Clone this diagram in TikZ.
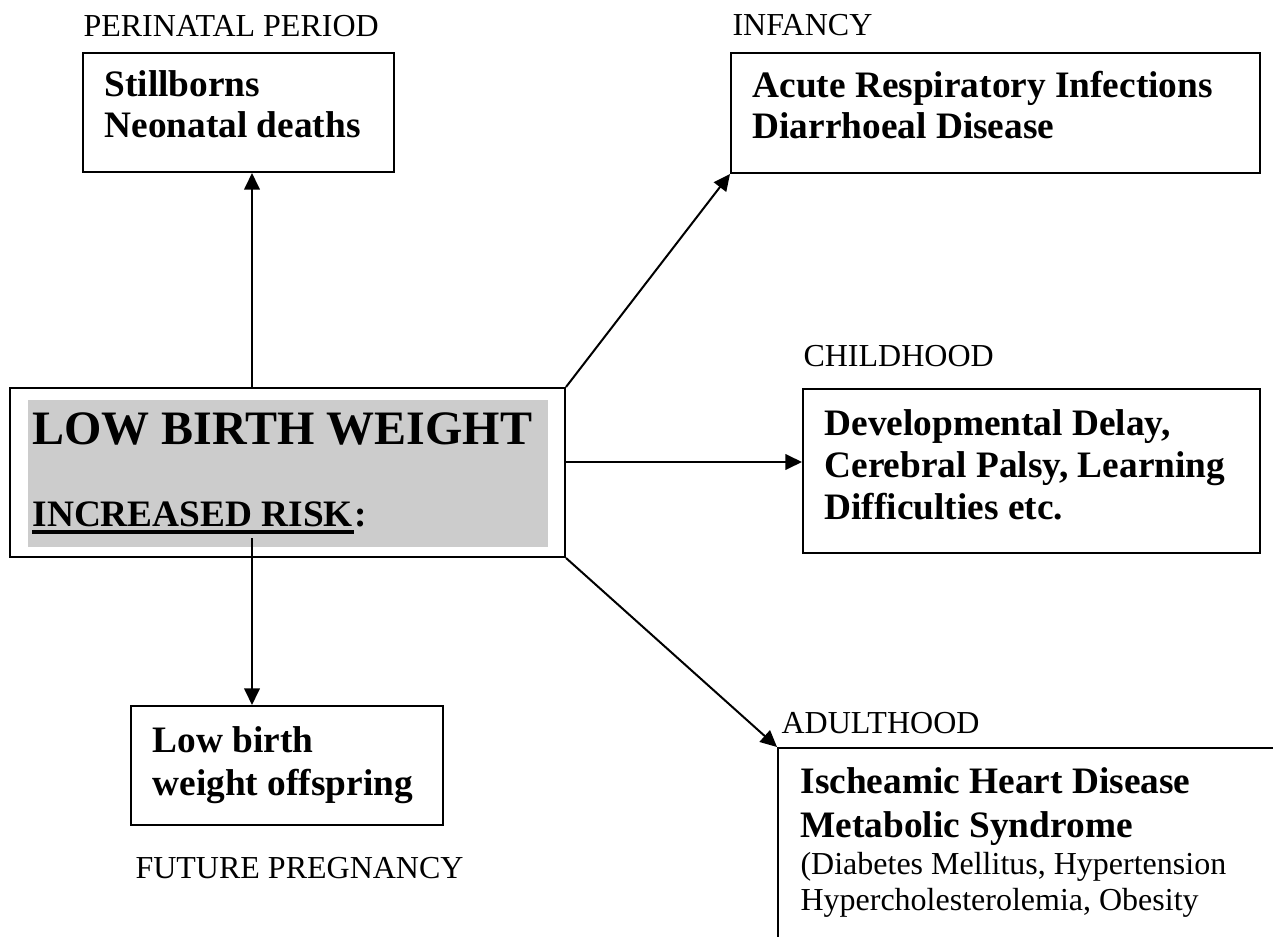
\documentclass[tikz,border=0pt]{standalone}
\usepackage{fontspec}
\setmainfont{Liberation Serif}
\usetikzlibrary{arrows.meta,fit,calc}
\definecolor{shade}{RGB}{204,204,204}

\begin{document}
\begin{tikzpicture}[x=0.375pt,y=-0.375pt,
  box/.style={draw, line width=0.75pt, inner sep=0pt, rectangle},
  lbl/.style={anchor=base west, inner sep=0pt, font=\fontsize{12}{14}\selectfont},
  itm/.style={anchor=base west, inner sep=0pt, font=\fontsize{14}{16}\selectfont\bfseries},
  big/.style={anchor=base west, inner sep=0pt, font=\fontsize{18}{20}\selectfont\bfseries},
  arr/.style={line width=0.75pt, -{Triangle[length=6.2pt,width=5.8pt]}},
]
\useasboundingbox (0,0) rectangle (1273,937);
\clip (0,0) rectangle (1273,937);

% central box
\node[box, fit={(10,388)(565,557)}] (lbw) {};
\node[fill=shade, inner sep=0pt, fit={(28,400)(548,547)}] (shadebg) {};
\node[big] (title) at (32,444) {LOW BIRTH WEIGHT};
\node[itm] (risk) at (32,526) {INCREASED RISK};
\node[itm] (colon) at (risk.base east) {:};
\draw[line width=1.5pt] ([yshift=-2.4pt]risk.base west) -- ([yshift=-2.4pt]risk.base east);

% perinatal period
\node[lbl] (perilbl) at (83,37) {PERINATAL PERIOD};
\node[box, fit={(83,53)(394,172)}] (peri) {};
\node[itm] (peri1) at (104,97) {Stillborns};
\node[itm] (peri2) at (104,138) {Neonatal deaths};

% infancy
\node[lbl] (inflbl) at (732,36) {INFANCY};
\node[box, fit={(731,53)(1260,173)}] (inf) {};
\node[itm] (inf1) at (752,98) {Acute Respiratory Infections};
\node[itm] (inf2) at (752,139) {Diarrhoeal Disease};

% childhood
\node[lbl] (childlbl) at (803,366) {CHILDHOOD};
\node[box, fit={(803,389)(1260,553)}] (child) {};
\node[itm] (child1) at (824,435) {Developmental Delay,};
\node[itm] (child2) at (824,477) {Cerebral Palsy, Learning};
\node[itm] (child3) at (824,519) {Difficulties etc.};

% future pregnancy
\node[box, fit={(131,706)(443,825)}] (off) {};
\node[itm] (off1) at (152,752) {Low birth};
\node[itm] (off2) at (152,795) {weight offspring};
\node[lbl] (futlbl) at (135,878) {FUTURE PREGNANCY};

% adulthood
\node[lbl] (adultlbl) at (781,733) {ADULTHOOD};
\node[box, fit={(778,748)(1300,960)}] (adult) {};
\node[itm] (adult1) at (800,793) {Ischeamic Heart Disease};
\node[itm] (adult2) at (800,837) {Metabolic Syndrome};
\node[lbl] (adult3) at (800,874) {(Diabetes Mellitus, Hypertension};
\node[lbl] (adult4) at (800,910) {Hypercholesterolemia, Obesity};

% connectors
\coordinate (vx) at (252,0);
\coordinate (hy) at (0,462);
\coordinate (foot) at (252,538);
\draw[arr] (vx |- lbw.north) -- (vx |- peri.south);
\draw[arr] (lbw.north east) -- (inf.south west);
\draw[arr] (hy -| lbw.east) -- (hy -| child.west);
\draw[arr] (foot) -- (vx |- off.north);
\draw[arr] (lbw.south east) -- (adult.north west);
\end{tikzpicture}
\end{document}
